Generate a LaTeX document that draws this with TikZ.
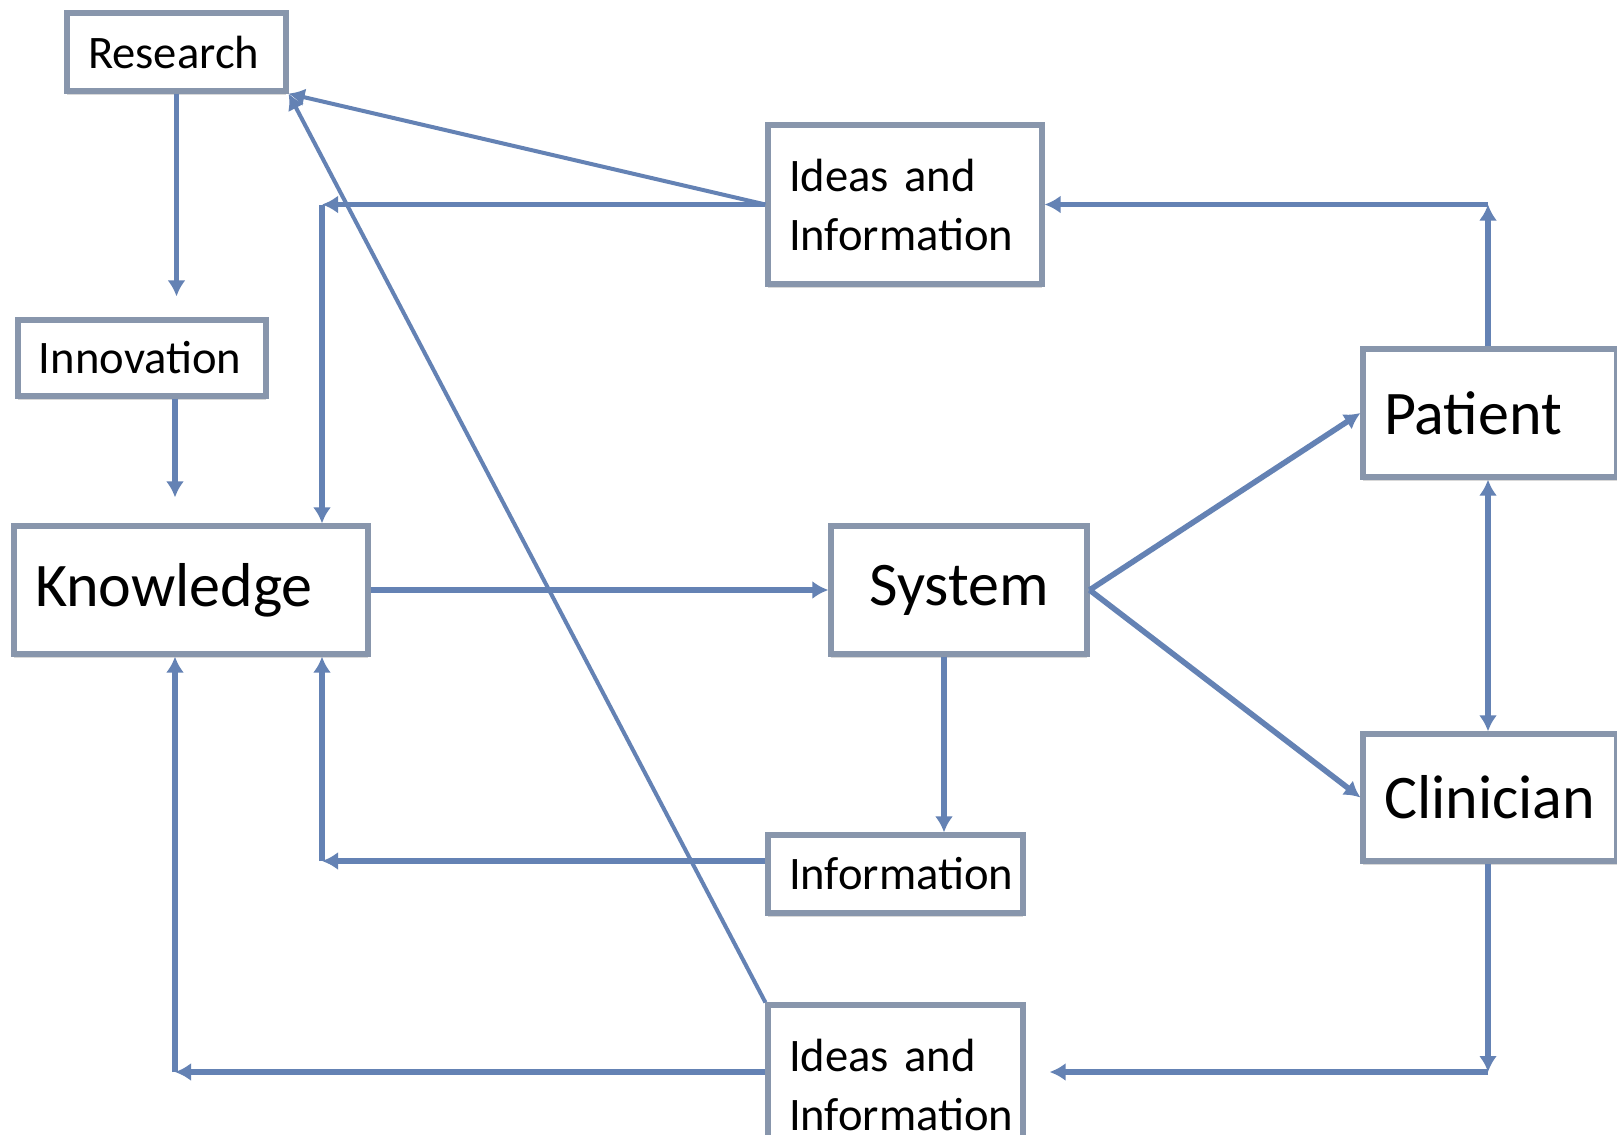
\documentclass[tikz,border=0pt]{standalone}
\usepackage{fontspec}
\setmainfont{Carlito}
\usetikzlibrary{arrows.meta,shadows}
\definecolor{linkblue}{RGB}{100,130,180}
\definecolor{boxedge}{RGB}{136,150,172}
\begin{document}
\begin{tikzpicture}[x=0.5pt,y=-0.5pt,
  box/.style={draw=boxedge, line width=2.6pt, fill=white, rectangle,
    inner xsep=10.5pt, inner ysep=0pt, align=left,
    drop shadow={shadow xshift=0pt,shadow yshift=-1.8pt,opacity=0.3,fill=gray}},
  small/.style={font=\fontsize{23.3}{29.5}\selectfont},
  big/.style={font=\fontsize{31}{37}\selectfont},
  tip/.style={},
  link/.style={draw=linkblue, line width=2.8pt, -{Latex[length=8pt,width=9pt]}},
  thinlink/.style={link, line width=2pt}
]
\clip (0,0) rectangle (1617,1135);
\fill[white] (0,0) rectangle (1617,1135);

% boxes
\node[box, small, text width=88.5pt, minimum height=39pt]   (research)    at (176.5,52)   {Research};
\node[box, small, text width=103pt,  minimum height=38pt]   (innovation)  at (142,358)    {Innovation};
\node[box, big,   text width=156pt,  minimum height=64pt]   (knowledge)   at (191,590)    {Knowledge};
\node[box, small, text width=116pt,  minimum height=79.5pt] (ideasA)      at (905,204.5)  {Ideas and\\Information};
\node[box, big,   text width=107pt,  minimum height=64pt, align=center] (system) at (959,590) {System};
\node[box, big,   text width=106pt,  minimum height=64pt]   (patient)     at (1490,413)   {Patient};
\node[box, big,   text width=106pt,  minimum height=63.5pt] (clinician)   at (1490,797.5) {Clinician};
\node[box, small, text width=106.5pt,minimum height=39pt]   (information) at (895.5,874)  {Information};
\node[box, small, text width=106.5pt,minimum height=79.5pt] (ideasB)      at (895.5,1084.5) {Ideas and\\Information};

% columns and rows used by the elbow connectors
\coordinate (colA) at (175,0);
\coordinate (colB) at (322,0);
\coordinate (colS) at (944,0);
\coordinate (colP) at (1488,0);
\coordinate (rowI) at (0,861);
\coordinate (rowB) at (0,1072);

% research chain
\draw[link, shorten >=10.5pt] (research.south) -- (research.south |- innovation.north);
\draw[link, shorten >=13pt] (innovation.south -| colA) -- (knowledge.north -| colA);

% feedback from the upper ideas box
\draw[link] (ideasA.west) -- (ideasA.west -| colB);
\draw[link] (ideasA.west -| colB) -- (knowledge.north -| colB);
\draw[thinlink] (ideasA.west) -- (research.south east);
\draw[thinlink] (ideasB.north west) -- (research.south east);

% main flow
\draw[link] (knowledge.east) -- (system.west);
\draw[link] (system.east) -- (patient.west);
\draw[link] (system.east) -- (clinician.west);
\draw[link, {Latex[length=8pt,width=9pt]}-{Latex[length=8pt,width=9pt]}]
  (patient.south -| colP) -- (clinician.north -| colP);

% patient to upper ideas box
\draw[link] (patient.north -| colP) -- (ideasA.west -| colP);
\draw[link] (ideasA.west -| colP) -- (ideasA.east);

% system information back to knowledge
\draw[link] (system.south -| colS) -- (information.north -| colS);
\draw[link] (information.west |- rowI) -- (colB |- rowI);
\draw[link] (colB |- rowI) -- (knowledge.south -| colB);

% clinician to lower ideas box and back to knowledge
\draw[link] (clinician.south -| colP) -- (colP |- rowB);
\draw[link, shorten >=12pt] (colP |- rowB) -- (ideasB.east |- rowB);
\draw[link] (ideasB.west |- rowB) -- (colA |- rowB);
\draw[link] (colA |- rowB) -- (knowledge.south -| colA);
\end{tikzpicture}
\end{document}
